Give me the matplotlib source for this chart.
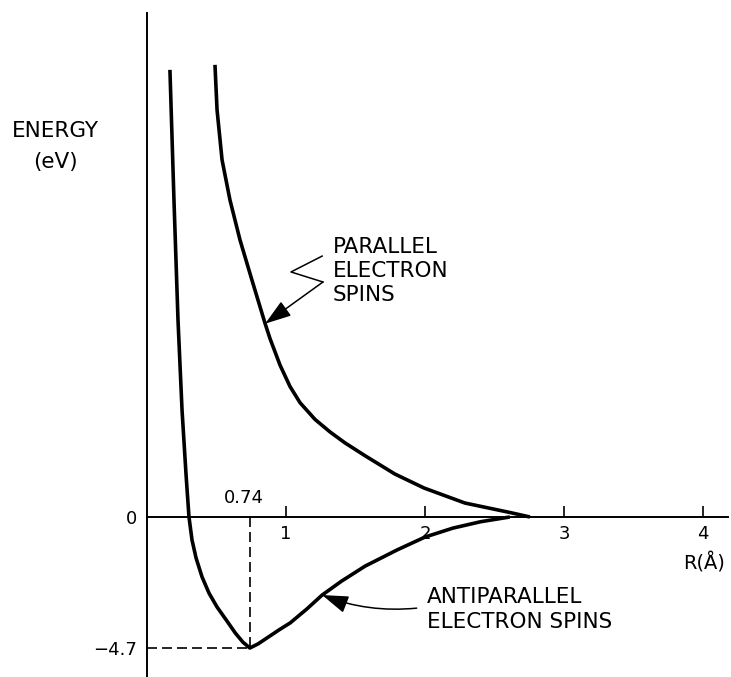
import numpy as np
import matplotlib
matplotlib.use('Agg')
import matplotlib.pyplot as plt

# bond length R in angstrom, energy in eV
anti_r = [0.165, 0.194, 0.223, 0.252, 0.281, 0.302, 0.324, 0.353, 0.396, 0.446, 0.504,
          0.575, 0.635, 0.69, 0.74, 0.80, 0.86, 0.95, 1.03, 1.15, 1.26, 1.40, 1.57,
          1.80, 2.00, 2.20, 2.40, 2.61]
anti_e = [16.04, 11.37, 7.07, 3.84, 1.51, 0.0, -0.83, -1.47, -2.15, -2.73, -3.23,
          -3.73, -4.16, -4.49, -4.7, -4.55, -4.35, -4.05, -3.8, -3.3, -2.8, -2.3, -1.76,
          -1.18, -0.72, -0.40, -0.17, 0.0]

par_r = [0.489, 0.504, 0.54, 0.597, 0.669, 0.755, 0.849, 0.885, 0.957, 1.029, 1.101,
         1.209, 1.317, 1.424, 1.568, 1.784, 1.993, 2.288, 2.612, 2.755]
par_e = [16.22, 14.6, 12.81, 11.37, 9.94, 8.5, 6.95, 6.4, 5.45, 4.68, 4.1,
         3.5, 3.05, 2.66, 2.2, 1.54, 1.04, 0.5, 0.16, 0.0]

r_min = 0.74
e_min = -4.7
xtick_vals = [1, 2, 3, 4]
xtick_labels = ['1', '2', '3', '4']

fig = plt.figure(figsize=(7.31, 6.77), dpi=100)
ax = fig.add_axes([147 / 731, 0, 581 / 731, 664 / 677])
ax.set_xlim(0, 4.18)
ax.set_ylim(-5.74, 18.08)

ax.plot(anti_r, anti_e, color='black', lw=2.6, solid_capstyle='butt', solid_joinstyle='round')
ax.plot(par_r, par_e, color='black', lw=2.6, solid_capstyle='butt', solid_joinstyle='round')

# dashed guides to the minimum
ax.plot([r_min, r_min], [0, e_min], color='black', lw=1.2, ls=(0, (6, 3)))
ax.plot([0, r_min], [e_min, e_min], color='black', lw=1.2, ls=(0, (6, 3)))
ax.annotate('0.74', xy=(r_min, 0), xytext=(-4, 7), textcoords='offset points',
            ha='center', va='bottom', fontsize=13)

# axes like a hand drawing
for s in ['top', 'right']:
    ax.spines[s].set_visible(False)
ax.spines['bottom'].set_position(('data', 0))
ax.spines['bottom'].set_linewidth(1.4)
ax.spines['left'].set_linewidth(1.4)

ax.set_xticks(xtick_vals)
ax.set_xticklabels(xtick_labels, fontsize=13)
ax.tick_params(axis='x', direction='in', length=8, width=1.2, pad=6)
ax.set_yticks([0, e_min])
ax.set_yticklabels(['0', '\u22124.7'], fontsize=13)
ax.tick_params(axis='y', length=0, pad=7)

fig.text(55 / 731, 1 - 131 / 677, 'ENERGY', ha='center', va='center', fontsize=15.5)
fig.text(55 / 731, 1 - 162 / 677, '(eV)', ha='center', va='center', fontsize=15.5)
fig.text(704 / 731, 1 - 570 / 677, 'R(\u00c5)', ha='center', va='baseline', fontsize=14)

# parallel spins label with zigzag leader
for txt, y in zip(['PARALLEL', 'ELECTRON', 'SPINS'], [9.47, 8.61, 7.75]):
    ax.text(1.338, y, txt, ha='left', va='baseline', fontsize=15.5)
ax.plot([1.26, 1.036, 1.266], [9.36, 8.79, 8.43], color='black', lw=1.1)
tip_r = 0.85
ax.annotate('', xy=(tip_r, np.interp(tip_r, par_r, par_e)), xytext=(1.266, 8.43),
            arrowprops=dict(arrowstyle='-|>,head_length=0.9,head_width=0.3',
                            color='black', lw=1.1, shrinkA=0, shrinkB=0,
                            mutation_scale=18))

# antiparallel spins label
ax.text(2.014, -3.09, 'ANTIPARALLEL', ha='left', va='baseline', fontsize=15.5)
ax.text(2.014, -3.98, 'ELECTRON SPINS', ha='left', va='baseline', fontsize=15.5)
tip_r = 1.26
ax.annotate('', xy=(tip_r, np.interp(tip_r, anti_r, anti_e)), xytext=(1.94, -3.27),
            arrowprops=dict(arrowstyle='-|>,head_length=0.9,head_width=0.3',
                            color='black', lw=1.1, shrinkA=0, shrinkB=0,
                            mutation_scale=18,
                            connectionstyle='arc3,rad=-0.12'))

plt.savefig('out.png', dpi=100)
